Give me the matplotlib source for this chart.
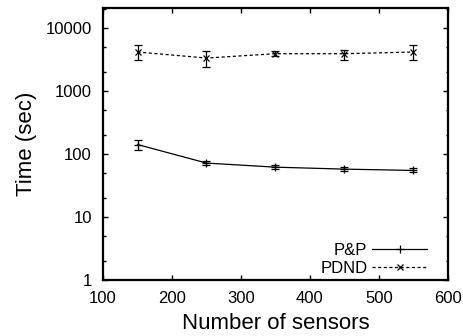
import numpy as np
import matplotlib
matplotlib.use("Agg")
from matplotlib import pyplot as plt
from matplotlib.ticker import LogLocator, FixedLocator, NullFormatter

# данные
sensors = [150, 250, 350, 450, 550]
pp_time = [142, 72, 62, 57.7, 55]
pp_lo = [117, 66, 57, 53, 51]
pp_hi = [169, 79, 68, 62, 59.4]
pdnd_time = [4200, 3370, 3950, 3950, 4200]
pdnd_lo = [3090, 2425, 3580, 3090, 3090]
pdnd_hi = [5370, 4350, 4340, 4590, 5370]

plt.rcParams['font.family'] = ['Liberation Sans', 'DejaVu Sans']

fig = plt.figure(figsize=(4.63, 3.36), dpi=100)
ax = fig.add_axes([0.2225, 0.167, 0.745, 0.809])

pp_err = [np.array(pp_time) - np.array(pp_lo), np.array(pp_hi) - np.array(pp_time)]
pd_err = [np.array(pdnd_time) - np.array(pdnd_lo), np.array(pdnd_hi) - np.array(pdnd_time)]

c1 = ax.errorbar(sensors, pp_time, yerr=pp_err, color='black', lw=0.9, ls='-',
                 marker='+', ms=6, mew=0.9, capsize=3, elinewidth=0.9, capthick=0.9)
c2 = ax.errorbar(sensors, pdnd_time, yerr=pd_err, color='black', lw=0.9, ls=(0, (2.5, 2)),
                 marker='x', ms=5, mew=0.9, capsize=3, elinewidth=0.9, capthick=0.9)

ax.set_yscale('log')
ax.set_xlim(100, 600)
ax.set_ylim(1, 21000)
ax.set_xticks([100, 200, 300, 400, 500, 600])
ax.yaxis.set_major_locator(FixedLocator([1, 10, 100, 1000, 10000]))
ax.set_yticklabels(['1', '10', '100', '1000', '10000'])
ax.yaxis.set_minor_locator(LogLocator(base=10, subs=(2.0, 5.0)))
ax.yaxis.set_minor_formatter(NullFormatter())

ax.tick_params(which='both', direction='in', top=True, right=True, labelsize=12, width=1)
ax.tick_params(which='major', length=3.3, pad=8)
ax.tick_params(which='minor', length=1.8)
for s in ax.spines.values():
    s.set_linewidth(1.6)

ax.set_xlabel('Number of sensors', fontsize=16, labelpad=5)
ax.set_ylabel('Time (sec)', fontsize=16, labelpad=6)

# легенда в стиле gnuplot: подпись справа выровнена, образец линии после неё
ax.legend(handles=[c1[0], c2[0]], labels=['P&P', 'PDND'], loc='lower right',
          bbox_to_anchor=(0.94, 0.015), frameon=False, markerfirst=False,
          fontsize=12, numpoints=1, handlelength=3.3, handletextpad=0.3,
          labelspacing=0.15, borderaxespad=0.0, borderpad=0.0)

fig.savefig('out.png', dpi=100)
